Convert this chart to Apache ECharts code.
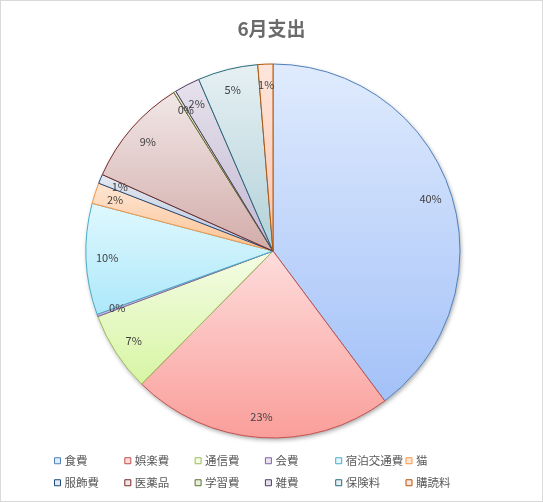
<!DOCTYPE html>
<html>
<head>
<meta charset="utf-8">
<script src="https://cdn.jsdelivr.net/npm/echarts@6/dist/echarts.min.js"></script>
<style>
  html, body { margin: 0; padding: 0; background: #fff; }
  #chart { position: absolute; left: 0; top: 0; width: 543px; height: 502px; box-sizing: border-box; border: 1px solid #d9d9d9; }
</style>
</head>
<body>
<div id="chart"></div>
<script>
// 6月支出 の内訳（割合, %）
var categories = ['食費', '娯楽費', '通信費', '会費', '宿泊交通費', '猫', '服飾費', '医薬品', '学習費', '雑費', '保険料', '購読料'];
var shares = [39.8, 22.6, 6.9, 0.2, 9.6, 1.8, 0.8, 9.4, 0.2, 2.2, 5.2, 1.3];

// 枠線の色 / グラデーション上端 / 下端
var lineColors = ['#4f81bd', '#c0504d', '#9bbb59', '#8064a2', '#4bacc6', '#f79646', '#1f497d', '#772c2a', '#5f7530', '#4d3b62', '#276a7c', '#b65708'];
var topColors = ['#e0ebfd', '#fddddc', '#f4fce6', '#e8e2f1', '#e0f8fe', '#fee6d4', '#e4e9f1', '#f1e7e7', '#e9efde', '#e6e2ec', '#e6f0f3', '#fee6dc'];
var bottomColors = ['#a3c1f8', '#fa9e9a', '#d7f5a3', '#c8b6e0', '#ace8fa', '#fbc292', '#b6c5db', '#d2aca9', '#c7d6a9', '#c3b8d2', '#b2d1d9', '#fbc3ac'];

var chart = echarts.init(document.getElementById('chart'));

var pieData = categories.map(function (name, i) {
    return {
        name: name,
        value: shares[i],
        itemStyle: {
            color: new echarts.graphic.LinearGradient(0, 0, 0, 1, [
                { offset: 0, color: topColors[i] },
                { offset: 1, color: bottomColors[i] }
            ]),
            borderColor: lineColors[i],
            borderWidth: 1
        }
    };
});

// 凡例は 6 列 × 2 行の格子に並べる（Excel 風）
var legends = categories.map(function (name, i) {
    var col = i % 6, row = Math.floor(i / 6);
    return {
        data: [{
            name: name,
            icon: 'rect',
            itemStyle: { color: topColors[i], borderColor: lineColors[i], borderWidth: 1 }
        }],
        left: 53 + col * 70.3,
        top: 454 + row * 22,
        itemWidth: 6,
        itemHeight: 6,
        itemGap: 4,
        selectedMode: false,
        padding: 0,
        textStyle: { color: '#595959', fontSize: 11.5, fontFamily: 'Noto Sans CJK JP', padding: [0, 0, 0, -1] }
    };
});

var option = {
    backgroundColor: '#fff',
    animation: false,
    title: {
        text: '6月支出',
        left: 'center',
        top: 13,
        textStyle: { color: '#6a6a6a', fontSize: 19, fontWeight: 'bold', fontFamily: 'Noto Sans CJK JP' }
    },
    legend: legends,
    series: [{
        // 円の外側の薄い影
        type: 'pie',
        center: [272, 250],
        radius: [0, 187],
        silent: true,
        label: { show: false },
        labelLine: { show: false },
        emphasis: { disabled: true },
        itemStyle: { color: '#fff', shadowBlur: 4, shadowOffsetX: 1, shadowOffsetY: 2, shadowColor: 'rgba(0,0,0,0.35)' },
        data: [{ value: 1, name: '' }]
    }, {
        type: 'pie',
        center: [272, 250],
        radius: [0, 187],
        startAngle: 90,
        clockwise: true,
        label: { show: false },
        labelLine: { show: false },
        emphasis: { disabled: true },
        data: pieData
    }, {
        // ラベルだけの透明な層（外周寄りに表示）
        type: 'pie',
        center: [272, 250],
        radius: [139, 187],
        startAngle: 90,
        clockwise: true,
        silent: true,
        avoidLabelOverlap: false,
        labelLayout: { hideOverlap: false },
        itemStyle: { color: 'rgba(0,0,0,0)', borderWidth: 0 },
        label: {
            show: true,
            position: 'inside',
            color: '#404040',
            fontSize: 11,
            fontFamily: 'Noto Sans CJK JP',
            formatter: function (p) { return Math.round(p.percent) + '%'; }
        },
        labelLine: { show: false },
        emphasis: { disabled: true },
        data: categories.map(function (name, i) { return { name: name, value: shares[i] }; })
    }]
};

chart.setOption(option);
</script>
</body>
</html>
